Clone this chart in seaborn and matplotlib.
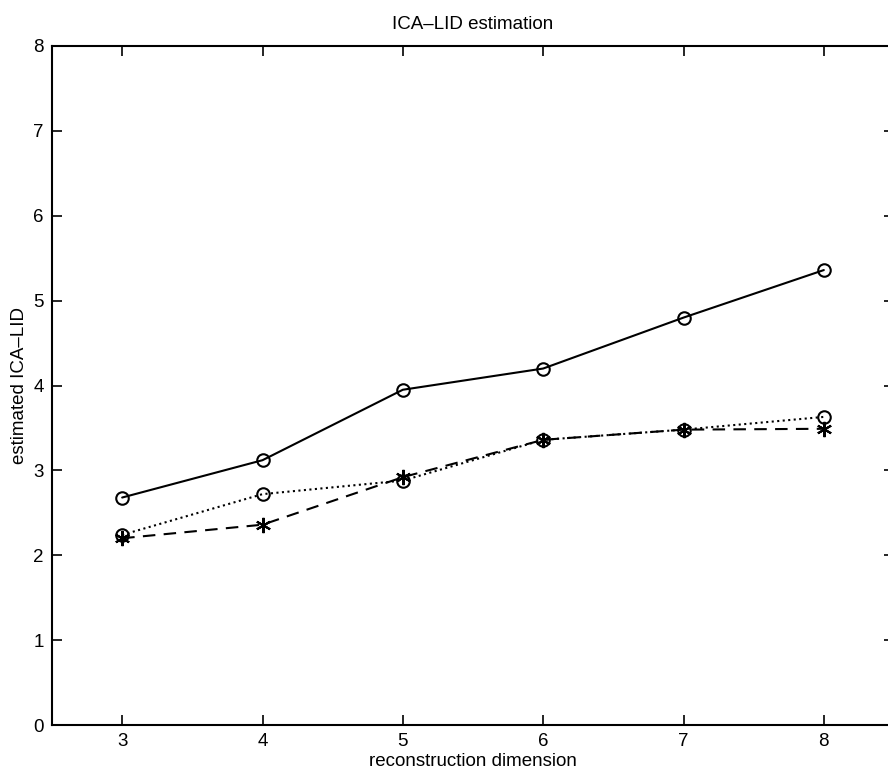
import numpy as np
import pandas as pd
import matplotlib
matplotlib.use("Agg")
import matplotlib.pyplot as plt
import seaborn as sns

# reconstruction dimensions and estimated ICA-LID values
dims = [3, 4, 5, 6, 7, 8]
series_solid = [2.68, 3.12, 3.95, 4.20, 4.80, 5.36]
series_dotted = [2.24, 2.72, 2.88, 3.36, 3.48, 3.63]
series_dashed = [2.20, 2.36, 2.92, 3.36, 3.48, 3.49]
y_ticks = [0, 1, 2, 3, 4, 5, 6, 7, 8]

sns.set_style("ticks")
plt.rcParams['font.family'] = ['Liberation Sans', 'DejaVu Sans']
plt.rcParams.update({'text.color': 'black', 'axes.labelcolor': 'black',
                     'xtick.color': 'black', 'ytick.color': 'black'})

fig = plt.figure(figsize=(8.88, 7.8), dpi=100)
ax = fig.add_axes([52 / 888, 55 / 780, 842 / 888, 679 / 780])

df = pd.DataFrame({
    'dim': dims * 3,
    'value': series_solid + series_dotted + series_dashed,
    'series': ['solid'] * 6 + ['dotted'] * 6 + ['dashed'] * 6,
})

styles = {
    'solid': dict(linestyle='-', marker='o', ms=9, mfc='none'),
    'dotted': dict(linestyle=':', marker='o', ms=9, mfc='none'),
    'dashed': dict(linestyle=(0, (6, 4)), marker=(6, 2, 0), ms=11),
}
for name, st in styles.items():
    sub = df[df['series'] == name]
    sns.lineplot(data=sub, x='dim', y='value', ax=ax, color='black', lw=1.5,
                 mec='black', mew=1.5, **st)

ax.set_xlim(2.5, 8.5)
ax.set_ylim(0, 8)
ax.set_xticks(dims)
ax.set_yticks(y_ticks)
ax.tick_params(direction='in', length=7, width=1.2, labelsize=13.5,
               top=True, right=True, pad=6)
for sp in ax.spines.values():
    sp.set_linewidth(1.5)
    sp.set_color('black')

ax.set_title('ICA\u2013LID estimation', fontsize=13.5, pad=12)
ax.set_xlabel('reconstruction dimension', fontsize=13.5, labelpad=2)
ax.set_ylabel('estimated ICA\u2013LID', fontsize=13.5, labelpad=4)

fig.savefig('out.png', dpi=100)
